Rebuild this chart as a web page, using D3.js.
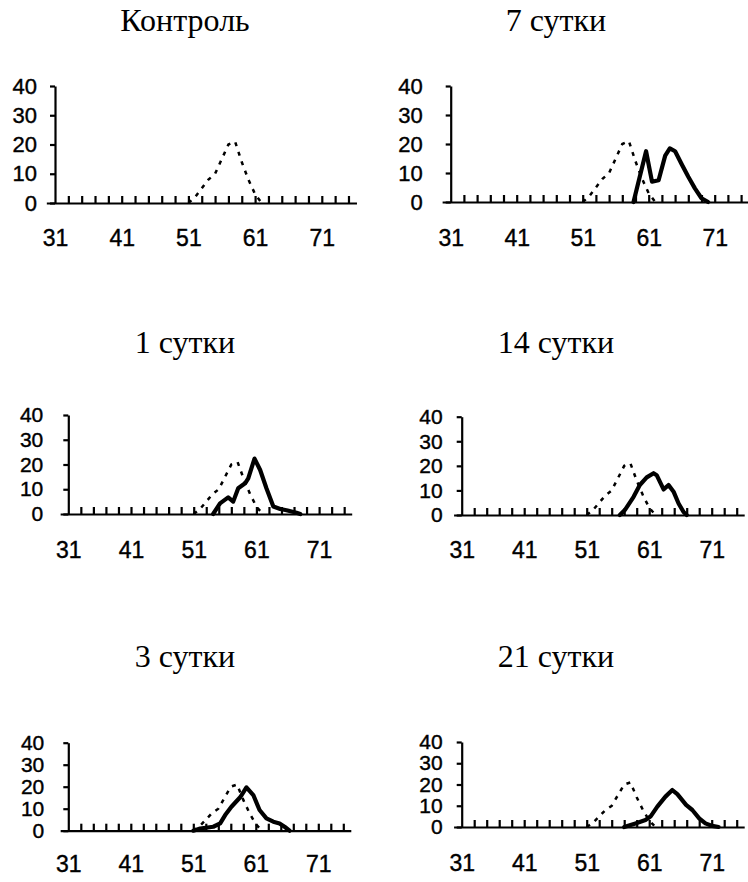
<!DOCTYPE html>
<html><head><meta charset="utf-8">
<script src="https://cdn.jsdelivr.net/npm/d3@7"></script>
<style>
html,body{margin:0;padding:0;background:#fff;}
svg{display:block;}
</style></head>
<body>
<svg id="chart" width="748" height="882"></svg>
<script>
// ---- data ----
const titles = ["Контроль", "7 сутки", "1 сутки", "14 сутки", "3 сутки", "21 сутки"];
const xTickValues = [33,35,37,39,41,43,45,47,49,51,53,55,57,59,61,63,65,67,69,71,73,75];
const xLabels = [31, 41, 51, 61, 71];
const yTicks = [0, 10, 20, 30, 40];

const controlX = [51, 52, 53, 54, 55, 56, 57, 58, 59, 60, 61, 62];
const controlY = [0, 2, 5, 8, 10, 15, 20, 21, 14, 8, 3, 0];

const day7X = [58.7, 60.6, 61.5, 62.5, 63.5, 64.2, 65, 66, 67, 68, 69, 70];
const day7Y = [0, 17.5, 7, 7.5, 16, 18.5, 17.5, 13, 8.7, 4.7, 1.3, 0];

const day1X = [54.1, 55.2, 56.5, 57.3, 58.1, 59.2, 59.7, 60.7, 61.6, 62.6, 63.7, 64.8, 65.8, 67.4, 68];
const day1Y = [0, 4.3, 6.7, 5, 10.4, 12.4, 14.4, 22.4, 17.8, 10.4, 3, 2, 1.5, 0.5, 0];

const day14X = [56.3, 57.1, 58.5, 59.5, 60.6, 61.7, 62.2, 63.3, 64.1, 64.9, 65.7, 66.5, 67];
const day14Y = [0, 2, 7.4, 12.2, 15.3, 17, 16.2, 10.4, 12.2, 9.5, 4.7, 1.2, 0];

const day3X = [51, 52.1, 54.2, 55.3, 56.1, 57.1, 58.5, 59.5, 60.6, 61.6, 62.7, 63.8, 64.8, 65.6, 66.4];
const day3Y = [0, 1, 1.8, 3.3, 7.1, 10.9, 15.2, 19.7, 16.2, 9.4, 5.6, 4.1, 3.3, 1.8, 0];

const day21X = [57, 58.8, 60.4, 61.2, 62.3, 63.6, 64.7, 65.5, 66.9, 67.9, 69, 70, 71.1, 72.1];
const day21Y = [0, 1.7, 3.3, 4.9, 9.6, 14.3, 17.4, 15.5, 10.4, 8, 4.1, 1.7, 0.5, 0];

const seriesX = [null, day7X, day1X, day14X, day3X, day21X];
const seriesY = [null, day7Y, day1Y, day14Y, day3Y, day21Y];

// ---- layout (pixel geometry per panel) ----
const layout = [
  {tx:185, ty:31, x31:55,    ppu:6.67, y0:203, y40:86,    yFont:22, yPad:13, xPad:27},
  {tx:556, ty:31, x31:450.7, ppu:6.6,  y0:202, y40:86,    yFont:22, yPad:23, xPad:28},
  {tx:185, ty:353, x31:68.3, ppu:6.27, y0:514, y40:415,   yFont:21, yPad:20, xPad:28},
  {tx:556, ty:353, x31:461.7,ppu:6.25, y0:515, y40:416.7, yFont:21, yPad:14, xPad:27},
  {tx:185, ty:667, x31:68.3, ppu:6.25, y0:830.7, y40:742.7, yFont:21, yPad:19, xPad:25},
  {tx:556, ty:667, x31:461.7,ppu:6.25, y0:827, y40:742,   yFont:21, yPad:14, xPad:28}
];

const svg = d3.select("#chart");

layout.forEach((L, i) => {
  const g = svg.append("g");
  const x = d3.scaleLinear().domain([29.7, 76.2])
    .range([L.x31 - 1.3 * L.ppu, L.x31 + 45.2 * L.ppu]);
  const y = d3.scaleLinear().domain([0, 40]).range([L.y0, L.y40]);

  // title
  g.append("text")
    .attr("x", L.tx).attr("y", L.ty)
    .attr("text-anchor", "middle")
    .attr("font-family", "'Liberation Serif','Times New Roman',serif")
    .attr("font-size", 32)
    .text(titles[i]);

  // x axis with upward ticks
  const xa = g.append("g").attr("transform", `translate(0,${L.y0})`)
    .call(d3.axisBottom(x).tickValues(xTickValues).tickSizeInner(-7).tickSizeOuter(0).tickFormat(""));
  xa.selectAll("path,line").attr("stroke", "#000").attr("stroke-width", 2.2);

  // x labels
  const xl = g.append("g").attr("transform", `translate(0,${L.y0})`)
    .call(d3.axisBottom(x).tickValues(xLabels).tickSize(0).tickPadding(L.xPad));
  xl.select(".domain").remove();
  xl.selectAll("text").attr("font-family", "'Liberation Sans',Arial,sans-serif")
    .attr("font-size", 23).attr("fill", "#000")
    .attr("stroke", "#000").attr("stroke-width", 0.4);

  // y axis
  const ya = g.append("g").attr("transform", `translate(${x(31)},0)`)
    .call(d3.axisLeft(y).tickValues(yTicks).tickSizeInner(5).tickSizeOuter(0).tickPadding(L.yPad));
  ya.selectAll("path,line").attr("stroke", "#000").attr("stroke-width", 2.2);
  ya.selectAll("text").attr("font-family", "'Liberation Sans',Arial,sans-serif")
    .attr("font-size", L.yFont).attr("fill", "#000")
    .attr("stroke", "#000").attr("stroke-width", 0.4);

  const line = d3.line().x(d => x(d[0])).y(d => y(d[1]));

  // control (dotted)
  g.append("path")
    .datum(controlX.map((v, k) => [v, controlY[k]]))
    .attr("d", line)
    .attr("fill", "none").attr("stroke", "#000")
    .attr("stroke-width", 2.5).attr("stroke-dasharray", "4,6");

  // experimental (solid)
  if (seriesX[i]) {
    g.append("path")
      .datum(seriesX[i].map((v, k) => [v, seriesY[i][k]]))
      .attr("d", line)
      .attr("fill", "none").attr("stroke", "#000")
      .attr("stroke-width", 4.2).attr("stroke-linejoin", "round").attr("stroke-linecap", "round");
  }
});
</script>
</body></html>
